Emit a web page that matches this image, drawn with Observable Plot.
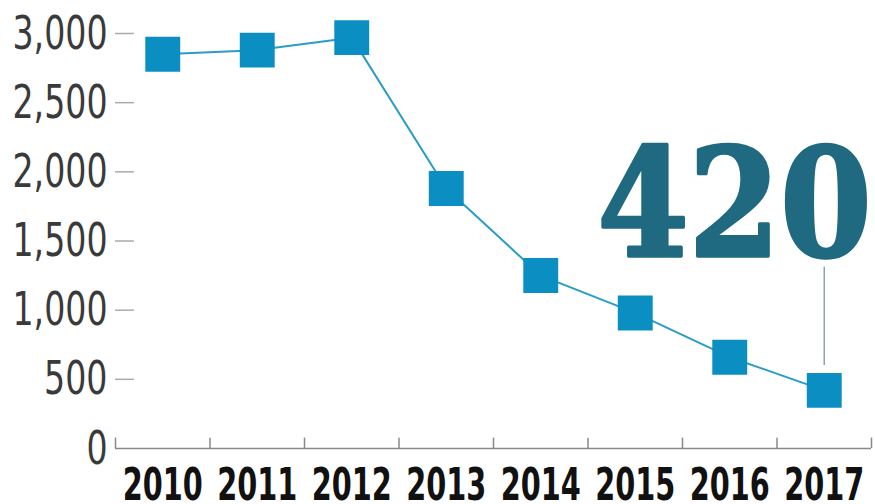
<!DOCTYPE html>
<html>
<head>
<meta charset="utf-8">
<script src="https://cdn.jsdelivr.net/npm/d3@7"></script>
<script src="https://cdn.jsdelivr.net/npm/@observablehq/plot@0.6"></script>
<style>
  html, body { margin: 0; padding: 0; background: #fff; }
  #chart svg { display: block; }
</style>
</head>
<body>
<div id="chart"></div>
<script>
const years = [2010, 2011, 2012, 2013, 2014, 2015, 2016, 2017];
const values = [2850, 2880, 2970, 1880, 1250, 980, 660, 420];
const yTicks = [0, 500, 1000, 1500, 2000, 2500, 3000];
const highlightLabel = "420";

const data = years.map((year, i) => ({year, value: values[i]}));
const last = data[data.length - 1];
const bandEdges = d3.range(years[0] - 0.5, years[years.length - 1] + 1, 1);

const sans = "'DejaVu Sans Condensed', 'DejaVu Sans', sans-serif";

const chart = Plot.plot({
  width: 875,
  height: 504,
  marginLeft: 115,
  marginRight: 4,
  marginTop: 33,
  marginBottom: 56,
  style: {background: "#fff", overflow: "visible"},
  x: {domain: [years[0] - 0.5, years[years.length - 1] + 0.5], axis: null},
  y: {domain: [0, 3000], axis: null},
  marks: [
    Plot.axisY({
      ticks: yTicks, tickSize: 0, tickPadding: 8, label: null,
      tickFormat: d3.format(","),
      fontSize: 47, fontFamily: sans, fill: "#3a3a3a", className: "ylab"
    }),
    Plot.ruleY(yTicks.filter(d => d > 0), {
      y: d => d, x1: years[0] - 0.5, x2: years[0] - 0.3,
      stroke: "#aaa", strokeWidth: 1.5
    }),
    Plot.ruleY([0], {stroke: "#888", strokeWidth: 1.5}),
    Plot.ruleX(bandEdges, {x: d => d, y1: 0, y2: 75, stroke: "#888", strokeWidth: 1.5}),
    Plot.axisX({
      ticks: years, tickSize: 0, tickPadding: 20, label: null,
      tickFormat: d => String(d),
      fontSize: 44, fontWeight: "bold", fontFamily: sans, fill: "#111", className: "xlab"
    }),
    Plot.ruleX([last], {x: "year", y1: 600, y2: 1310, stroke: "#8aa6b0", strokeWidth: 1.5}),
    Plot.line(data, {x: "year", y: "value", stroke: "#2a9cc6", strokeWidth: 2}),
    Plot.dot(data, {x: "year", y: "value", symbol: "square", r: 19.7, fill: "#0b8fc2", stroke: "none"}),
    Plot.text([last], {
      x: d => d.year + 0.5, y: 1395, text: () => highlightLabel,
      textAnchor: "end", lineAnchor: "bottom",
      fontSize: 150, fontWeight: "bold", fontFamily: "'DejaVu Serif', serif",
      fill: "#1f6a80", stroke: "#1f6a80", strokeWidth: 3.5, strokeLinejoin: "round",
      className: "big-label"
    })
  ]
});

document.getElementById("chart").append(chart);

// condense text horizontally to match the reference's narrow typeface
function condense(selector, refText, refWidth) {
  const texts = Array.from(chart.querySelectorAll(selector));
  const ref = texts.find(t => t.textContent === refText) || texts[0];
  if (!ref) return;
  const f = refWidth / ref.getComputedTextLength();
  texts.forEach(t => {
    const w = t.getComputedTextLength();
    t.setAttribute("textLength", (w * f).toFixed(1));
    t.setAttribute("lengthAdjust", "spacingAndGlyphs");
  });
}
condense(".ylab text", "3,000", 95);
condense(".xlab text", "2010", 80);
condense(".big-label text", highlightLabel, 274);
</script>
</body>
</html>
